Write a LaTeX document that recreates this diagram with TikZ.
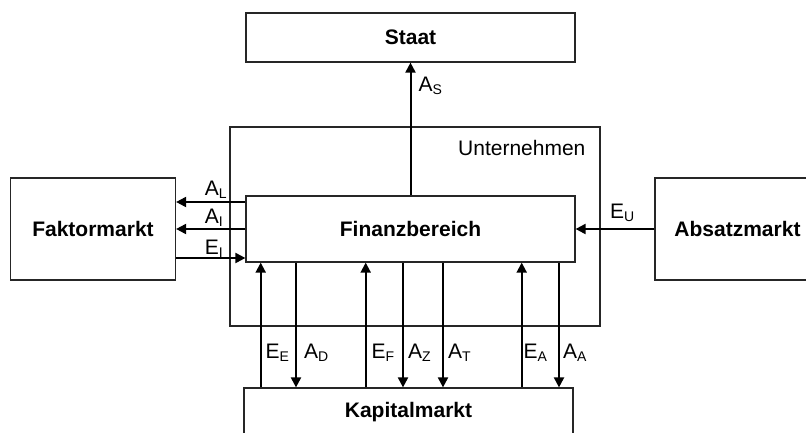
\documentclass[tikz,border=0pt]{standalone}
\usepackage{fontspec}
\setmainfont{Liberation Sans}
\usetikzlibrary{arrows.meta}
\newcommand\slab[2]{#1\raisebox{-3pt}{\fontsize{14}{14}\selectfont #2}}
\begin{document}
\begin{tikzpicture}[x=1pt,y=-1pt,
  box/.style={draw=black!85,line width=1.2pt,fill=white,inner sep=0pt,
    font=\fontsize{21}{21}\selectfont\bfseries},
  frame/.style={draw=black!85,line width=1.2pt,inner sep=0pt},
  arr/.style={line width=2pt,-{Triangle[length=10pt,width=10pt]}},
  rarr/.style={line width=2pt,{Triangle[length=10pt,width=10pt]}-},
  lab/.style={font=\fontsize{21}{21}\selectfont,inner sep=0pt,anchor=base west}]
\useasboundingbox (0,0) rectangle (806,432);
\clip (0,0) rectangle (806,432);
\node[frame,minimum width=370pt,minimum height=199pt] (unt) at (415,226.5) {};
\node[font=\fontsize{21}{21}\selectfont,inner sep=0pt,anchor=base east]
  (untlab) at ([xshift=-15pt,yshift=-29pt]unt.north east) {Unternehmen};
\node[box,minimum width=329pt,minimum height=49pt] (staat) at (410.5,37.5) {Staat};
\node[box,minimum width=329pt,minimum height=66pt] (fin) at (410.5,229) {Finanzbereich};
\node[box,minimum width=165pt,minimum height=102pt] (fakt) at (93,229) {Faktormarkt};
\node[box,minimum width=165pt,minimum height=102pt] (abs) at (737.5,229) {Absatzmarkt};
\node[box,minimum width=329pt,minimum height=49pt] (kap) at (408.5,412.5) {Kapitalmarkt};
% Staat
\draw[arr] (fin.north) -- node[lab,pos=0.78,xshift=7pt] {\slab{A}{S}} (staat.south);
% Faktormarkt
\draw[arr] (fin.west |- 0,202) -- node[lab,pos=0.6,yshift=7pt] {\slab{A}{L}} (fakt.east |- 0,202);
\draw[arr] (fin.west |- 0,229) -- node[lab,pos=0.6,yshift=6pt] {\slab{A}{I}} (fakt.east |- 0,229);
\draw[rarr] (fin.west |- 0,258) -- node[lab,pos=0.6,yshift=4pt] {\slab{E}{I}} (fakt.east |- 0,258);
% Absatzmarkt
\draw[arr] (abs.west) -- node[lab,pos=0.575,yshift=11pt] {\slab{E}{U}} (fin.east);
% Kapitalmarkt
\draw[rarr] (fin.south -| 260.7,0) -- node[lab,pos=0.77,xshift=4pt] {\slab{E}{E}} (kap.north -| 260.7,0);
\draw[arr]  (fin.south -| 296,0)   -- node[lab,pos=0.77,xshift=7pt] {\slab{A}{D}} (kap.north -| 296,0);
\draw[rarr] (fin.south -| 365.7,0) -- node[lab,pos=0.77,xshift=5pt] {\slab{E}{F}} (kap.north -| 365.7,0);
\draw[arr]  (fin.south -| 403,0)   -- node[lab,pos=0.77,xshift=4pt] {\slab{A}{Z}} (kap.north -| 403,0);
\draw[arr]  (fin.south -| 443,0)   -- node[lab,pos=0.77,xshift=4pt] {\slab{A}{T}} (kap.north -| 443,0);
\draw[rarr] (fin.south -| 521.7,0) -- node[lab,pos=0.77,xshift=1pt] {\slab{E}{A}} (kap.north -| 521.7,0);
\draw[arr]  (fin.south -| 559,0)   -- node[lab,pos=0.77,xshift=3pt] {\slab{A}{A}} (kap.north -| 559,0);
\end{tikzpicture}
\end{document}
